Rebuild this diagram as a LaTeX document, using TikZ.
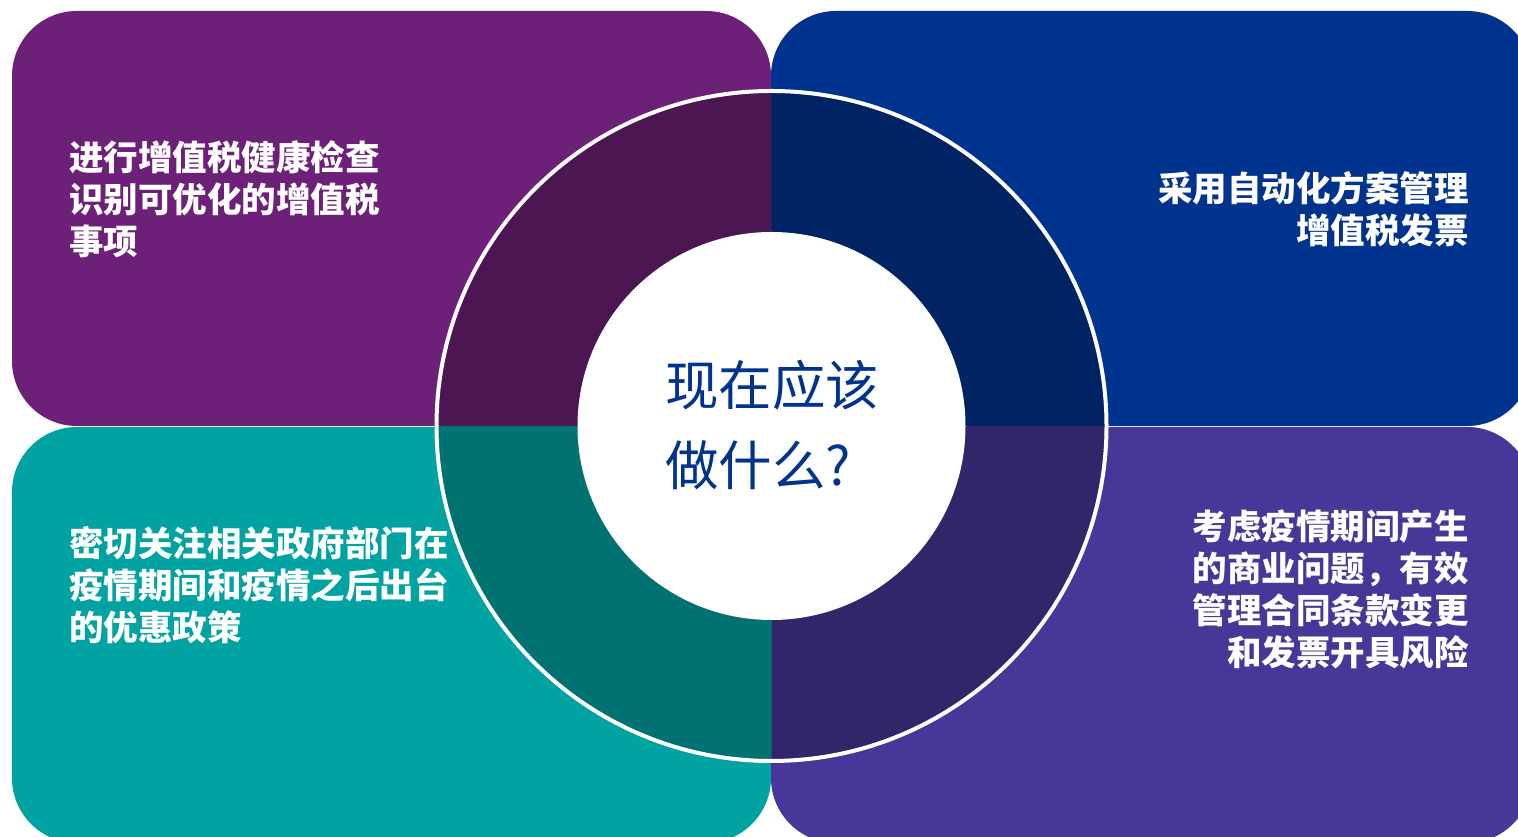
\documentclass[tikz,border=0pt]{standalone}
\usepackage{fontspec}
\newfontfamily\cjk{Noto Sans CJK SC}
\definecolor{cTL}{HTML}{6D2077}
\definecolor{cTR}{HTML}{00338D}
\definecolor{cBL}{HTML}{00A3A1}
\definecolor{cBR}{HTML}{483698}
\definecolor{dTL}{HTML}{4C1653}
\definecolor{dTR}{HTML}{002463}
\definecolor{dBL}{HTML}{007271}
\definecolor{dBR}{HTML}{32266A}
\tikzset{
  panel/.style={rounded corners=65pt},
  boxtext/.style={text=white, inner sep=0pt, font=\cjk\bfseries\fontsize{34.5}{42}\selectfont},
  hubtext/.style={text=cTR, inner sep=0pt, align=left, font=\cjk\fontsize{53.5}{80}\selectfont},
}
\begin{document}
\begin{tikzpicture}[x=1pt,y=1pt]
\useasboundingbox (0,0) rectangle (1518,837);
\clip (0,0) rectangle (1518,837);
% panels
\fill[cTL, panel] (12,411) rectangle (771,826);
\fill[cTR, panel] (771,411) rectangle (1532,826);
\fill[cBL, panel] (12,-6) rectangle (771,410);
\fill[cBR, panel] (771,-6) rectangle (1532,410);
% ring
\coordinate (c) at (771.5,411);
\fill[dTL] (c) -- ++(180:335) arc[start angle=180,end angle=90,radius=335] -- cycle;
\fill[dTR] (c) -- ++(90:335) arc[start angle=90,end angle=0,radius=335] -- cycle;
\fill[dBR] (c) -- ++(0:335) arc[start angle=0,end angle=-90,radius=335] -- cycle;
\fill[dBL] (c) -- ++(-90:335) arc[start angle=-90,end angle=-180,radius=335] -- cycle;
\draw[white, line width=4pt] (c) circle[radius=335];
\node[circle, fill=white, minimum size=388pt, inner sep=0pt] (hub) at (c) {};
\node[hubtext, anchor=west] (q) at (665,412) {现在应该\\做什么?};
% texts
\node[boxtext, anchor=west, align=left] (tl) at (69,638) {进行增值税健康检查\\识别可优化的增值税\\事项};
\node[boxtext, anchor=east, align=right] (tr) at (1469,628) {采用自动化方案管理\\增值税发票};
\node[boxtext, anchor=west, align=left] (bl) at (69,252) {密切关注相关政府部门在\\疫情期间和疫情之后出台\\的优惠政策};
\node[boxtext, anchor=east, align=right] (br) at (1469,247.5) {考虑疫情期间产生\\的商业问题，有效\\管理合同条款变更\\和发票开具风险};
\end{tikzpicture}
\end{document}
